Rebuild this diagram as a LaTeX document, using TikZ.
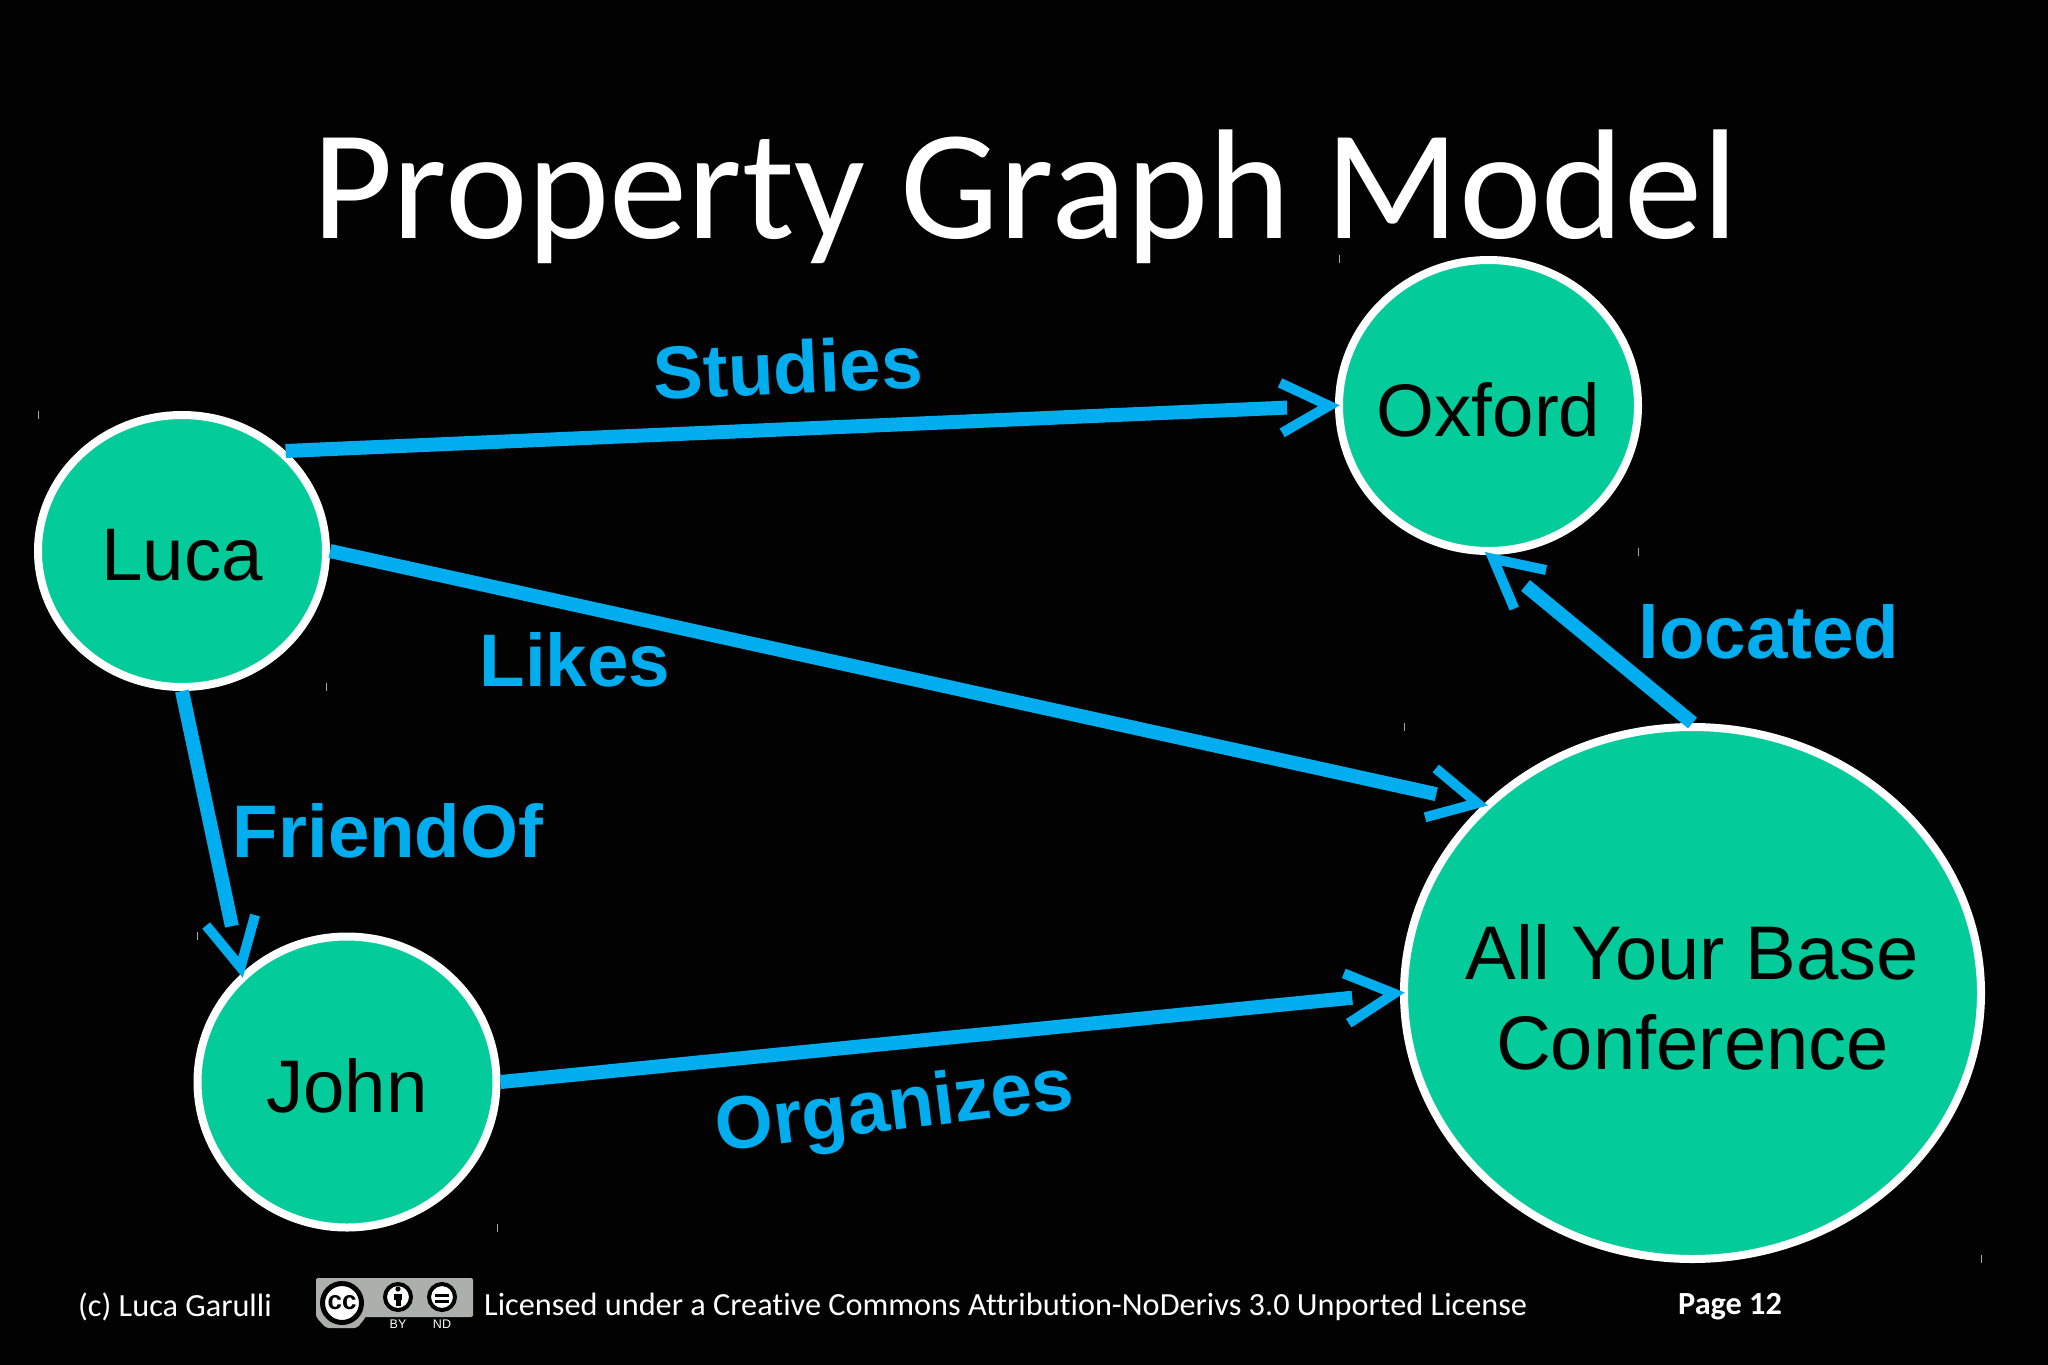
\documentclass[tikz,border=0pt]{standalone}
\usepackage{fontspec}
\setmainfont{Liberation Sans}
\newfontfamily\titlefont[Ligatures=NoCommon]{Carlito}
\usetikzlibrary{shapes.geometric,arrows.meta}
\definecolor{teal0}{RGB}{3,204,154}
\definecolor{blue0}{RGB}{0,173,239}
\definecolor{bg0}{RGB}{2,2,3}
\definecolor{badge0}{RGB}{172,176,172}
\pgfdeclarearrow{
  name=GapBarb,
  parameters={0},
  setup code={
    \pgfarrowssettipend{0pt}
    \pgfarrowssetlineend{-48pt}
    \pgfarrowssetvisualbackend{-48pt}
    \pgfarrowssetbackend{-48pt}
    \pgfarrowshullpoint{-52pt}{25pt}
    \pgfarrowshullpoint{-52pt}{-25pt}
    \pgfarrowshullpoint{0pt}{0pt}
  },
  drawing code={
    \pgfsetlinewidth{10pt}
    \pgfsetmiterjoin
    \pgfsetbuttcap
    \pgfpathmoveto{\pgfqpoint{-54pt}{25pt}}
    \pgfpathlineto{\pgfqpoint{-6pt}{0pt}}
    \pgfpathlineto{\pgfqpoint{-54pt}{-25pt}}
    \pgfusepathqstroke
  }
}
\tikzset{
  vertexnode/.style={ellipse,draw=white,line width=8pt,fill=teal0,inner sep=0pt},
  vertextext/.style={text=black,inner sep=0pt,align=center,yshift=-4pt,
    font=\fontsize{74.5}{90}\selectfont},
  edgeline/.style={draw=blue0,line width=14pt,-{GapBarb}},
  edgelabel/.style={text=blue0,font=\fontsize{74.5}{80}\selectfont\bfseries,inner sep=0pt},
  foot/.style={text=white,font=\titlefont\fontsize{32.3}{36}\selectfont,inner sep=0pt,anchor=west},
  tick/.style={draw=gray!70,line width=1pt},
  ccring/.style={circle,draw=black,fill=white,inner sep=0pt},
  cctiny/.style={text=white,font=\fontsize{12.5}{13}\selectfont,inner sep=0pt}
}
\begin{document}
\begin{tikzpicture}[x=1pt,y=-1pt]
\useasboundingbox (0,0) rectangle (2048,1365);
\fill[bg0] (0,0) rectangle (2048,1365);
% title
\node[text=white,inner sep=0pt,anchor=base,font=\titlefont\fontsize{156.5}{180}\selectfont] (title) at (1025,238) {Property Graph Model};
% specks
\foreach \x/\y in {38/415,326/687,197/936,1339/259,1638/552,1404/727,497/1228,1981/1259}
  \draw[tick] (\x,\y-4) -- (\x,\y+4);
% vertices
\node[vertexnode,minimum width=288pt,minimum height=272pt,label={[vertextext]center:Luca}] (luca) at (182,551) {};
\node[vertexnode,minimum width=299pt,minimum height=291pt,label={[vertextext]center:Oxford}] (oxford) at (1488.5,405.5) {};
\node[vertexnode,minimum width=299pt,minimum height=291pt,label={[vertextext]center:John}] (john) at (347,1082) {};
\node[vertexnode,minimum width=577pt,minimum height=532pt,label={[vertextext,font=\fontsize{76}{90}\selectfont]center:All Your Base\\Conference}] (conf) at (1692.5,993) {};
% connectors
\draw[edgeline] (luca.44) -- (oxford.180);
\draw[edgeline] (luca.0) -- (conf.138);
\draw[edgeline] (luca.270) -- (john.134);
\draw[edgeline] (john.0) -- (conf.180);
\draw[edgeline] (conf.90) -- (oxford.270);
% labels
\node[edgelabel,rotate=2.5] (studies) at (788,367) {Studies};
\node[edgelabel] (likes) at (575,660) {Likes};
\node[edgelabel] (friend) at (388,831) {FriendOf};
\node[edgelabel,rotate=7] (org) at (895,1111) {Organizes};
\node[edgelabel] (located) at (1769,632) {located};
% footer
\node[foot] (author) at (78,1307) {(c) Luca Garulli};
\node[foot] (lic) at (484,1307) {Licensed under a Creative Commons Attribution-NoDerivs 3.0 Unported License};
\node[foot,font=\titlefont\fontsize{32.3}{36}\selectfont\bfseries] (page) at (1678,1307) {Page 12};
% badge
\fill[badge0,rounded corners=2pt] (316,1278) rectangle (473,1317);
\fill[badge0,rounded corners=3pt] (316,1290) -- (366,1290) -- (366,1317) -- (357,1328) -- (326,1328) -- (316,1317) -- cycle;
\node[ccring,line width=5pt,minimum size=39pt,font=\fontsize{26}{27}\selectfont\bfseries] (cc) at (342,1303) {cc};
\node[ccring,line width=4pt,minimum size=26pt] (by) at (398,1297) {};
\fill[black] (398,1289) circle (2.6pt);
\fill[black] (394,1293.5) rectangle (402,1300);
\fill[black] (395.5,1300) rectangle (400.5,1306);
\node[ccring,line width=4pt,minimum size=26pt] (nd) at (442,1297) {};
\fill[black] (435,1293.5) rectangle (449,1296.5);
\fill[black] (435,1300) rectangle (449,1303);
\node[cctiny] (bylab) at (398,1324) {BY};
\node[cctiny] (ndlab) at (442,1324) {ND};
\end{tikzpicture}
\end{document}
